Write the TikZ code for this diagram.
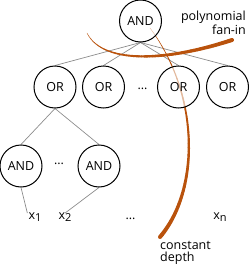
\documentclass[tikz,border=0pt]{standalone}
\usepackage{fontspec}
\setmainfont{Open Sans}
\usetikzlibrary{backgrounds}
\definecolor{curvebrown}{RGB}{185,82,12}
\newcommand{\xsub}[1]{\raisebox{-2pt}{\fontsize{11}{11}\selectfont #1}}
\begin{document}
\begin{tikzpicture}[x=1pt,y=-1pt,
  gate/.style={circle,draw=black,line width=1pt,minimum size=42pt,inner sep=0pt,
    fill=white,fill opacity=0.6,text opacity=1,font=\fontsize{12.5}{14}\selectfont},
  wire/.style={draw=black!45,line width=0.7pt},
  lbl/.style={font=\fontsize{12.5}{14}\selectfont,inner sep=0pt},
  brushstroke/.style={curvebrown,line cap=round}]
\useasboundingbox (0,0) rectangle (250,265);

% gates
\node[gate] (top) at (140.5,21) {AND};
\node[gate] (or1) at (55,87) {OR};
\node[gate] (or2) at (103.5,87) {OR};
\node[lbl] (dotsor) at (142.5,89) {...};
\node[gate] (or3) at (178.5,87) {OR};
\node[gate] (or4) at (227.5,87) {OR};
\node[gate] (and1) at (21,166) {AND};
\node[lbl] (dotsand) at (59,164) {...};
\node[gate] (and2) at (99,166) {AND};

% inputs
\node[lbl,anchor=base] (x1) at (35,219) {x\xsub{1}};
\node[lbl,anchor=base] (x2) at (65,219) {x\xsub{2}};
\node[lbl,anchor=base] (dotsx) at (130.5,219) {...};
\node[lbl,anchor=base] (xn) at (220,219) {x\xsub{n}};

% labels
\node[lbl,anchor=base east] (poly1) at (246,20.5) {polynomial};
\node[lbl,anchor=base east] (poly2) at (246,34) {fan-in};
\node[lbl,anchor=base west] (const1) at (160,249) {constant};
\node[lbl,anchor=base west] (const2) at (160,261) {depth};

\begin{pgfonlayer}{background}
  % wires
  \foreach \o in {or1,or2,or3,or4}{
    \draw[wire] (top.south) -- (\o.north);
  }
  \draw[wire] (or1.south) -- (and1.north);
  \draw[wire] (or1.south) -- (and2.north);
  \draw[wire] (and1.south) -- ([xshift=-1pt,yshift=-1pt]x1.north west);
  \draw[wire] (and2.south) -- ([yshift=-1pt]x2.north);

  % fan-in stroke
  \path (87,33) .. controls (103,65) and (168,61) .. (232,40)
    \foreach \i in {0,...,60}{ coordinate[pos=\i/60] (f\i) };
  \foreach \i in {0,...,59}{
    \pgfmathtruncatemacro\j{\i+1}
    \pgfmathsetmacro\w{0.3+3.7*\j/60}
    \draw[brushstroke,line width=\w pt] (f\i) -- (f\j);
  }

  % depth stroke
  \path (150,28) .. controls (200,95) and (200,190) .. (160,237)
    \foreach \i in {0,...,60}{ coordinate[pos=\i/60] (d\i) };
  \foreach \i in {0,...,59}{
    \pgfmathtruncatemacro\j{\i+1}
    \pgfmathsetmacro\w{0.3+3.7*\j/60}
    \draw[brushstroke,line width=\w pt] (d\i) -- (d\j);
  }
\end{pgfonlayer}
\end{tikzpicture}
\end{document}
